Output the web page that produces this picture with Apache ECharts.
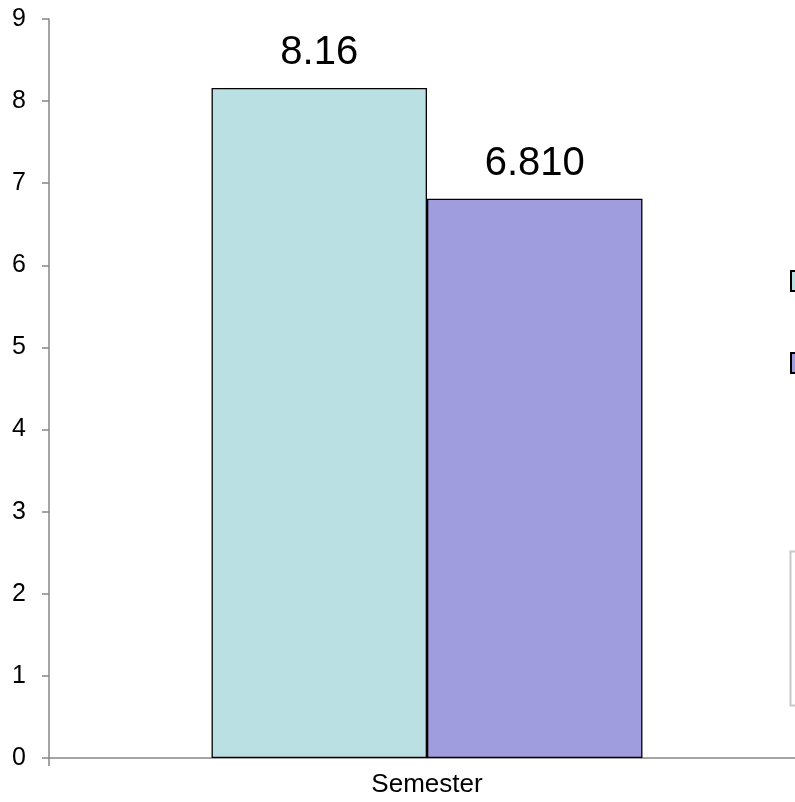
<!DOCTYPE html>
<html>
<head>
<meta charset="utf-8">
<script src="https://cdn.jsdelivr.net/npm/echarts@6/dist/echarts.min.js"></script>
<style>
  html, body { margin: 0; padding: 0; background: #fff; }
  #chart { width: 795px; height: 802px; }
</style>
</head>
<body>
<div id="chart"></div>
<script>
// Chart data
const categories = ['Semester'];
const seriesNames = ['Series 1', 'Series 2'];
const seriesValues = [8.16, 6.81];
const valueLabels = ['8.16', '6.810'];
const seriesColors = ['#BBE0E3', '#A09DDE'];
const yTicks = { min: 0, max: 9, interval: 1 };

const FONT = 'Liberation Sans, Arial, sans-serif';
const chart = echarts.init(document.getElementById('chart'));

const series = seriesNames.map((name, i) => ({
  name: name,
  type: 'bar',
  data: [seriesValues[i]],
  barGap: '0%',
  barCategoryGap: '43%',
  itemStyle: { color: seriesColors[i], borderColor: '#000', borderWidth: 1.3 },
  label: {
    show: true,
    position: 'top',
    distance: 15,
    color: '#000',
    fontFamily: FONT,
    fontSize: 40,
    formatter: () => valueLabels[i]
  }
}));

chart.setOption({
  animation: false,
  backgroundColor: '#fff',
  // the plot area runs past the right edge of the canvas
  grid: {
    left: 49, top: 19, width: 756, bottom: 44,
    containLabel: false,
    outerBoundsMode: 'none'
  },
  legend: {
    orient: 'vertical',
    left: 790,
    top: 270,
    padding: 0,
    itemWidth: 20,
    itemHeight: 20,
    itemGap: 60,
    icon: 'rect',
    itemStyle: { borderColor: '#000', borderWidth: 2 },
    textStyle: { fontSize: 16, color: '#000', fontFamily: FONT },
    data: seriesNames
  },
  graphic: [{
    type: 'rect',
    left: 788,
    top: 549,
    shape: { width: 40, height: 154 },
    style: { fill: 'none', stroke: '#C8C8C8', lineWidth: 2 }
  }],
  xAxis: {
    type: 'category',
    data: categories,
    axisLine: { lineStyle: { color: '#868686', width: 1.5 } },
    axisTick: { show: true, length: 8, lineStyle: { color: '#868686', width: 1.5 } },
    axisLabel: {
      color: '#000',
      fontSize: 26,
      margin: 14,
      fontFamily: FONT
    }
  },
  yAxis: {
    type: 'value',
    min: yTicks.min,
    max: yTicks.max,
    interval: yTicks.interval,
    splitLine: { show: false },
    axisLine: { show: true, lineStyle: { color: '#868686', width: 1.5 } },
    axisTick: { show: true, length: 7, lineStyle: { color: '#868686', width: 1.5 } },
    axisLabel: {
      color: '#000',
      fontSize: 25,
      margin: 23,
      fontFamily: FONT
    }
  },
  series: series
});
</script>
</body>
</html>
